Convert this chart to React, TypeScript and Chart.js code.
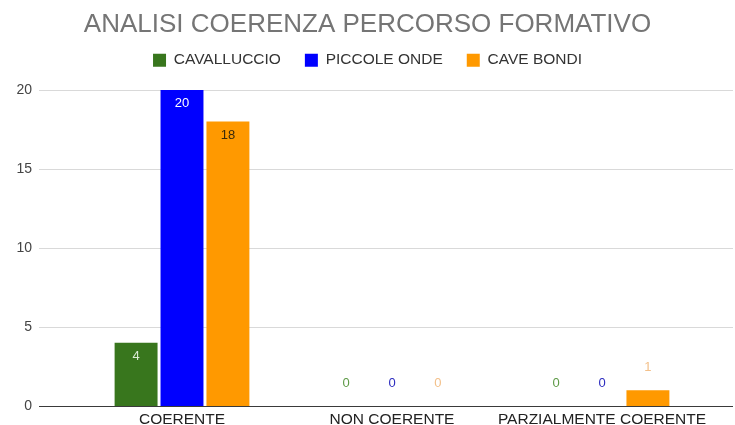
import React, { useEffect, useRef } from "react";
import { Chart, registerables } from "chart.js";

Chart.register(...registerables);

const title = "ANALISI COERENZA PERCORSO FORMATIVO";
const categories = ["COERENTE", "NON COERENTE", "PARZIALMENTE COERENTE"];
const seriesNames = ["CAVALLUCCIO", "PICCOLE ONDE", "CAVE BONDI"];
const cavalluccio = [4, 0, 0];
const piccoleOnde = [20, 0, 0];
const caveBondi = [18, 0, 1];
const yMax = 20;
const yStep = 5;

const FONT = "'Liberation Sans', Arial, Helvetica, sans-serif";
const barColors = ["#38761d", "#0000ff", "#ff9900"];
const insideLabelColors = ["#d9ead3", "#ffffff", "#3b2a0a"];
const outsideLabelColors = ["#5d9a46", "#2b2bbf", "#f3c08a"];

const decorPlugin = {
  id: "decor",
  afterInit(chart: any) {
    const lg = chart.legend;
    if (lg && !lg.__patched) {
      const orig = lg.fit.bind(lg);
      lg.fit = function () {
        orig();
        this.height += 12;
      };
      lg.__patched = true;
    }
  },
  beforeDatasetsDraw(chart: any) {
    const { ctx, chartArea } = chart;
    const ys = chart.scales.y;
    ctx.save();
    ctx.lineWidth = 1;
    ctx.strokeStyle = "#d9d9d9";
    ys.ticks.forEach((t: any) => {
      if (t.value === 0) return;
      const py = Math.round(ys.getPixelForValue(t.value)) + 0.5;
      ctx.beginPath();
      ctx.moveTo(chartArea.left - 38, py);
      ctx.lineTo(chartArea.right + 26, py);
      ctx.stroke();
    });
    ctx.restore();
  },
  afterDatasetsDraw(chart: any) {
    const { ctx, chartArea } = chart;
    const ys = chart.scales.y;
    ctx.save();
    const py = Math.round(ys.getPixelForValue(0)) + 0.5;
    ctx.strokeStyle = "#3a3a3a";
    ctx.lineWidth = 1;
    ctx.beginPath();
    ctx.moveTo(chartArea.left - 38, py);
    ctx.lineTo(chartArea.right + 26, py);
    ctx.stroke();

    ctx.font = `13px ${FONT}`;
    ctx.textAlign = "center";
    ctx.textBaseline = "middle";
    chart.data.datasets.forEach((ds: any, i: number) => {
      const meta = chart.getDatasetMeta(i);
      meta.data.forEach((bar: any, j: number) => {
        const v = ds.data[j];
        const h = bar.base - bar.y;
        if (h > 30) {
          ctx.fillStyle = insideLabelColors[i];
          ctx.fillText(String(v), bar.x, bar.y + 13.5);
        } else {
          ctx.fillStyle = outsideLabelColors[i];
          ctx.fillText(String(v), bar.x, bar.y - 23);
        }
      });
    });
    ctx.restore();
  },
};

export default function App() {
  const ref = useRef<HTMLCanvasElement | null>(null);

  useEffect(() => {
    if (!ref.current) return;
    const values = [cavalluccio, piccoleOnde, caveBondi];
    const chart = new Chart(ref.current, {
      type: "bar",
      data: {
        labels: categories,
        datasets: seriesNames.map((name, i) => ({
          label: name,
          data: values[i],
          backgroundColor: barColors[i],
          borderWidth: 0,
          categoryPercentage: 0.656,
          barPercentage: 0.935,
          yAxisID: "y",
        })),
      },
      options: {
        responsive: true,
        maintainAspectRatio: false,
        animation: false,
        devicePixelRatio: 1,
        layout: { padding: 0 },
        plugins: {
          title: {
            display: true,
            text: title,
            color: "#757575",
            font: { family: FONT, size: 26, weight: "normal", lineHeight: 0.4 },
            padding: { top: 20, bottom: -2 },
          },
          legend: {
            display: true,
            position: "top",
            labels: {
              color: "#333333",
              font: { family: FONT, size: 15.5 },
              boxWidth: 13,
              boxHeight: 13,
              padding: 24,
            },
          },
          tooltip: { enabled: false },
        },
        scales: {
          x: {
            grid: { display: false, drawTicks: false },
            border: { display: false },
            ticks: {
              color: "#222222",
              font: { family: FONT, size: 15.5 },
              padding: 4,
              maxRotation: 0,
              autoSkip: false,
            },
            afterFit(scale: any) {
              scale.height = 19;
              scale.paddingTop = 0;
              scale.paddingBottom = 0;
              scale.paddingLeft = 0;
              scale.paddingRight = 0;
            },
          },
          y: {
            min: 0,
            max: yMax,
            grid: { display: false, drawTicks: false },
            border: { display: false },
            ticks: {
              stepSize: yStep,
              color: "#444444",
              font: { family: FONT, size: 14 },
              padding: 45,
            },
            afterFit(scale: any) {
              scale.width = 77;
              scale.paddingTop = 0;
              scale.paddingBottom = 0;
            },
          },
          yRight: {
            type: "linear",
            position: "right",
            display: true,
            min: 0,
            max: yMax,
            grid: { display: false, drawTicks: false },
            border: { display: false },
            ticks: { display: false },
            afterFit(scale: any) {
              scale.width = 28;
              scale.paddingTop = 0;
              scale.paddingBottom = 0;
            },
          },
        },
      },
      plugins: [decorPlugin],
    } as any);
    return () => chart.destroy();
  }, []);

  return (
    <div style={{ position: "fixed", left: 0, top: 0, width: 735, height: 425, background: "#ffffff" }}>
      <canvas ref={ref} style={{ display: "block", width: "735px", height: "425px" }} />
    </div>
  );
}
